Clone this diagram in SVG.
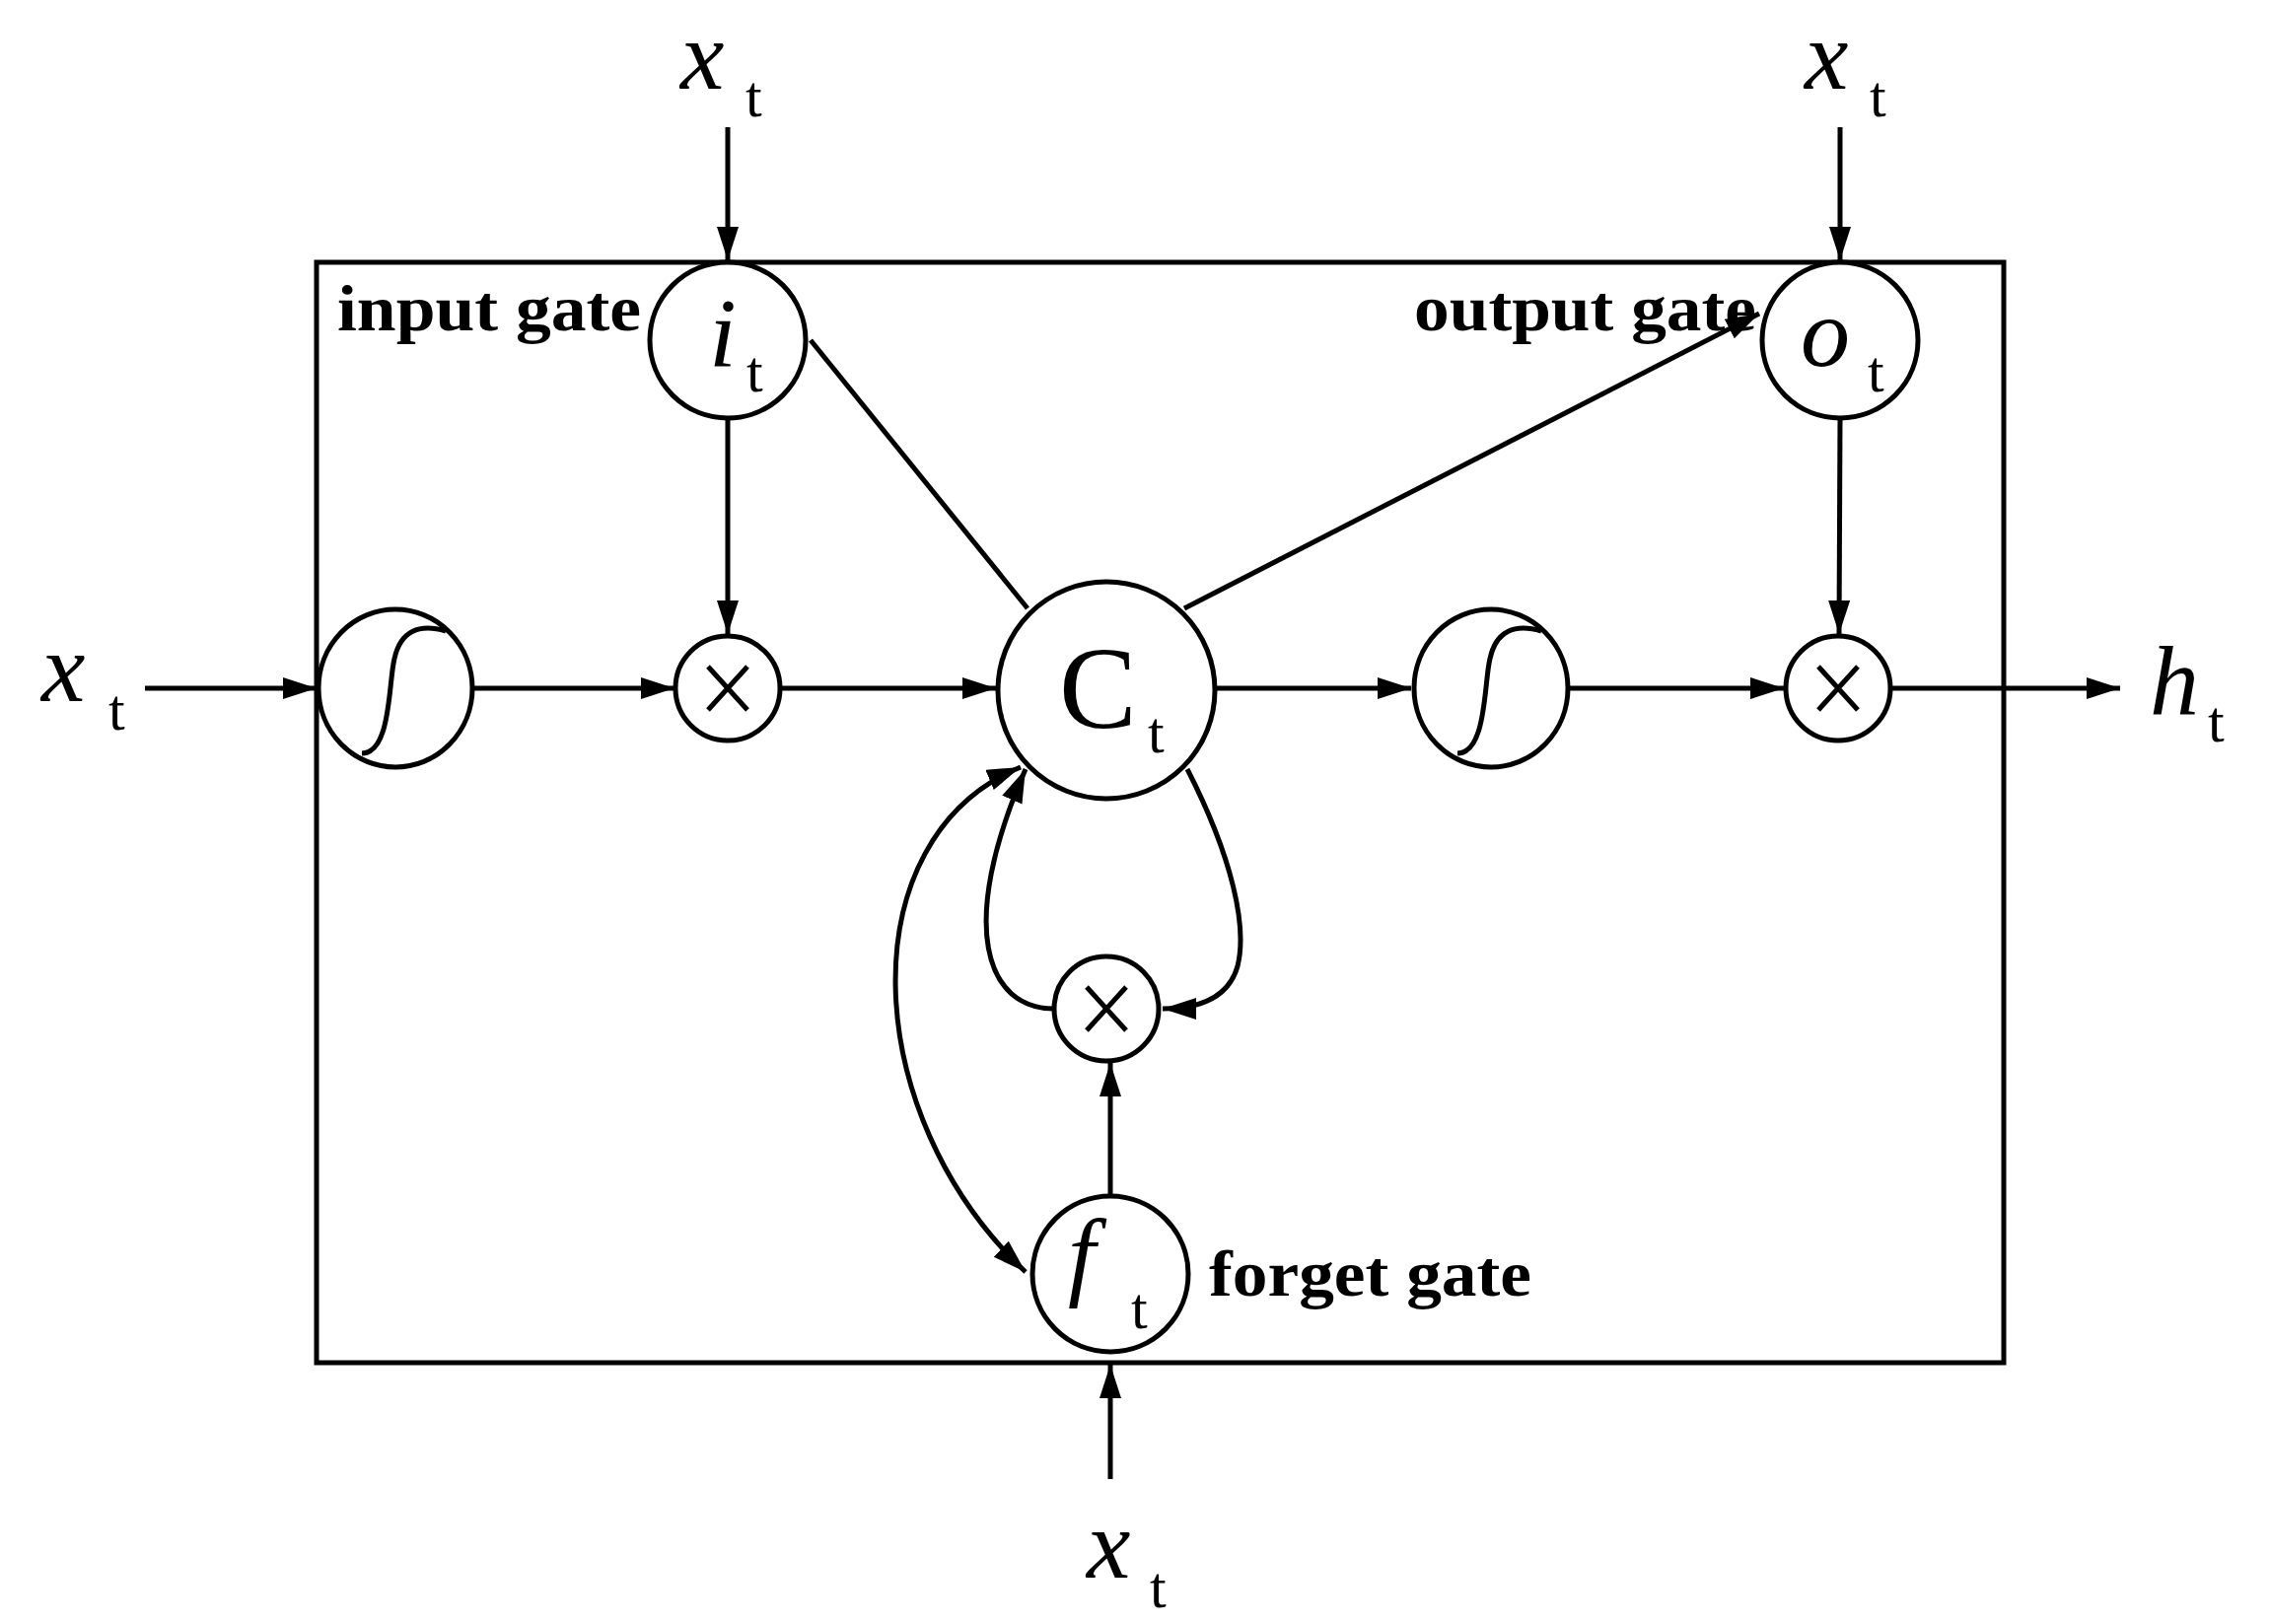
<svg xmlns="http://www.w3.org/2000/svg" width="2302" height="1647" viewBox="0 0 2302 1647">
<style>
.ln{fill:none;stroke:#000;stroke-width:5}
.nd{fill:#fff;stroke:#000;stroke-width:5}
.m{font-family:"Liberation Serif",serif;font-style:italic;font-size:100px}
.r{font-family:"Liberation Serif",serif;font-size:60px}
.lb{font-family:"Liberation Serif",serif;font-weight:bold;font-size:66px}
</style>
<defs>
<marker id="a" markerUnits="userSpaceOnUse" markerWidth="38" markerHeight="24" refX="34" refY="11" orient="auto-start-reverse" viewBox="0 0 38 24">
<path d="M0,0 L34,11 L0,22 z" fill="#000"/>
</marker>
</defs>
<rect x="321" y="266" width="1711" height="1116" class="ln"/>
<g id="connectors" class="ln">
<line x1="738" y1="129" x2="738" y2="264" marker-end="url(#a)"/>
<line x1="1866" y1="129" x2="1866" y2="264" marker-end="url(#a)"/>
<line x1="147" y1="698" x2="321" y2="698" marker-end="url(#a)"/>
<line x1="480" y1="698" x2="684" y2="698" marker-end="url(#a)"/>
<line x1="792" y1="698" x2="1010" y2="698" marker-end="url(#a)"/>
<line x1="1233" y1="698" x2="1431" y2="698" marker-end="url(#a)"/>
<line x1="1592" y1="698" x2="1809" y2="698" marker-end="url(#a)"/>
<line x1="1917" y1="698" x2="2150" y2="698" marker-end="url(#a)"/>
<line x1="738" y1="424" x2="738" y2="643" marker-end="url(#a)"/>
<line x1="1866" y1="424" x2="1865" y2="643" marker-end="url(#a)"/>
<line x1="822" y1="345" x2="1042" y2="617"/>
<line x1="1201" y1="617" x2="1784" y2="318" marker-end="url(#a)"/>
<line x1="1126" y1="1213" x2="1126" y2="1078" marker-end="url(#a)"/>
<line x1="1126" y1="1500" x2="1126" y2="1384" marker-end="url(#a)"/>
<path d="M1069,1023 C1000,1023 970,940 1040,780" marker-end="url(#a)"/>
<path d="M1204,780 C1250,870 1265,940 1255,980 C1245,1015 1210,1023 1179,1023" marker-end="url(#a)"/>
<path d="M1035,778 C860,850 870,1130 1040,1290" marker-start="url(#a)" marker-end="url(#a)"/>
</g>
<g id="i_gate"><circle cx="738" cy="345" r="79" class="nd"/><text class="m" x="719" y="371">i</text><text class="r" x="757" y="397">t</text></g>
<g id="o_gate"><circle cx="1866" cy="345" r="79" class="nd"/><text class="m" x="1826" y="371">o</text><text class="r" x="1894" y="397">t</text></g>
<g id="sig1"><ellipse cx="401" cy="698" rx="78" ry="80" class="nd"/><path class="ln" d="M367,764 C397,764 394,690 400,668 C406,640 425,632 452,640"/></g>
<g id="sig2"><ellipse cx="1512" cy="698" rx="78" ry="80" class="nd"/><path class="ln" d="M1478,764 C1508,764 1505,690 1511,668 C1517,640 1536,632 1563,640"/></g>
<g id="mul1"><circle cx="738" cy="698" r="53" class="nd"/><path class="ln" d="M718,676 L758,720 M758,676 L718,720"/></g>
<g id="mul2"><circle cx="1864" cy="698" r="53" class="nd"/><path class="ln" d="M1844,676 L1884,720 M1884,676 L1844,720"/></g>
<g id="mul3"><circle cx="1122" cy="1023" r="53" class="nd"/><path class="ln" d="M1102,1001 L1142,1045 M1142,1001 L1102,1045"/></g>
<g id="cell"><circle cx="1122" cy="700" r="110" class="nd"/><text x="1074" y="738" style="font-family:'Liberation Serif',serif;font-size:118px">C</text><text class="r" x="1164" y="763">t</text></g>
<g id="f_gate"><circle cx="1126" cy="1292" r="79" class="nd"/><text class="m" x="1083" y="1306">f</text><text class="r" x="1147" y="1347">t</text></g>
<g id="labels">
<text class="m" x="690" y="90">x</text><text class="r" x="756" y="118">t</text>
<text class="m" x="1830" y="90">x</text><text class="r" x="1896" y="118">t</text>
<text class="m" x="42" y="711">x</text><text class="r" x="110" y="740">t</text>
<text class="m" x="1102" y="1600">x</text><text class="r" x="1166" y="1630">t</text>
<text class="m" x="2180" y="724">h</text><text class="r" x="2239" y="752">t</text>
<text class="lb" x="342" y="335" textLength="308" lengthAdjust="spacingAndGlyphs">input gate</text>
<text class="lb" x="1434" y="335" textLength="347" lengthAdjust="spacingAndGlyphs">output gate</text>
<text class="lb" x="1226" y="1314" textLength="327" lengthAdjust="spacingAndGlyphs">forget gate</text>
</g>
</svg>
